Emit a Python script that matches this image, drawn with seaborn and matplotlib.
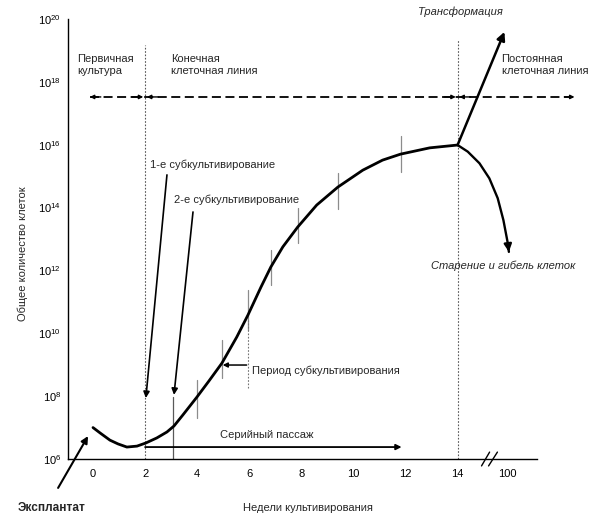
import numpy as np
import pandas as pd
import matplotlib
matplotlib.use("Agg")
import matplotlib.pyplot as plt
import seaborn as sns

# ---------------- data ----------------
# main growth curve: weeks vs log10(total cell number)
curve_weeks = [0, 0.27, 0.65, 0.96, 1.30, 1.69, 2.03, 2.45, 2.84, 3.11, 3.45,
               3.99, 4.45, 4.95, 5.52, 5.95, 6.45, 6.83, 7.29, 7.86, 8.59,
               9.40, 10.36, 11.12, 11.81, 12.93, 14.0]
curve_log_cells = [7.0, 6.83, 6.60, 6.48, 6.38, 6.41, 6.51, 6.67, 6.86, 7.05,
                   7.40, 7.97, 8.48, 9.05, 9.88, 10.58, 11.47, 12.11, 12.75,
                   13.38, 14.08, 14.65, 15.19, 15.51, 15.70, 15.90, 15.99]

# senescence branch
senes_weeks = [14.0, 14.39, 14.84, 15.22, 15.54, 15.76, 15.93, 15.97]
senes_log_cells = [15.99, 15.78, 15.41, 14.93, 14.30, 13.60, 12.86, 12.59]

# transformation branch (start, end)
transf_weeks = [14.0, 15.8]
transf_log_cells = [15.99, 19.59]

# subculture markers: week, lower and upper log10 value
sub_weeks = [3.07, 3.99, 4.95, 5.95, 6.83, 7.86, 9.40, 11.81]
sub_lo = [6.0, 7.30, 8.58, 10.10, 11.54, 12.87, 13.95, 15.13]
sub_hi = [7.97, 8.51, 9.79, 11.38, 12.65, 13.99, 15.10, 16.28]

# axis ticks
x_major_ticks = [0, 2, 4, 6, 8, 10, 12, 14, 15.9]
x_major_labels = ["0", "2", "4", "6", "8", "10", "12", "14", "100"]
x_minor_ticks = [1, 3, 5, 7, 9, 11, 13, 17]
y_exponents = list(range(6, 21))

df_curve = pd.DataFrame({"week": curve_weeks,
                         "cells": [10 ** v for v in curve_log_cells]})
df_senes = pd.DataFrame({"week": senes_weeks,
                         "cells": [10 ** v for v in senes_log_cells]})

# ---------------- style ----------------
sns.set_style("white")
plt.rcParams["font.family"] = ["Liberation Sans", "DejaVu Sans"]
plt.rcParams["mathtext.fontset"] = "custom"
plt.rcParams["mathtext.rm"] = "Liberation Sans"
plt.rcParams["mathtext.it"] = "Liberation Sans:italic"
plt.rcParams["mathtext.bf"] = "Liberation Sans:bold"

fig = plt.figure(figsize=(6, 5.18), dpi=100)
ax = fig.add_axes([68 / 600, 59 / 518, 469 / 600, 440 / 518])
ax.set_yscale("log")

FS = 8.0

# main curve
sns.lineplot(data=df_curve, x="week", y="cells", ax=ax, color="black",
             lw=2.0, sort=False, solid_capstyle="round",
             solid_joinstyle="round")
# senescence branch
sns.lineplot(data=df_senes, x="week", y="cells", ax=ax, color="black",
             lw=1.7, sort=False, clip_on=False, solid_joinstyle="round")
ax.annotate("", xy=(senes_weeks[-1], 10 ** senes_log_cells[-1]),
            xytext=(senes_weeks[-2], 10 ** senes_log_cells[-2]),
            arrowprops=dict(arrowstyle="-|>", lw=1.7, color="black",
                            mutation_scale=11, shrinkA=0, shrinkB=0),
            annotation_clip=False)
# transformation branch
ax.annotate("", xy=(transf_weeks[1], 10 ** transf_log_cells[1]),
            xytext=(transf_weeks[0], 10 ** transf_log_cells[0]),
            arrowprops=dict(arrowstyle="-|>", lw=1.8, color="black",
                            mutation_scale=12, shrinkA=0, shrinkB=0),
            annotation_clip=False)

# subculture markers
for i, (w, lo, hi) in enumerate(zip(sub_weeks, sub_lo, sub_hi)):
    col = "0.35" if i == 0 else "0.55"
    ax.plot([w, w], [10 ** lo, 10 ** hi], color=col, lw=0.9, zorder=1)

# dotted verticals
ax.plot([2, 2], [1e6, 10 ** 19.17], color="0.35", lw=0.8, ls=(0, (1.5, 1.5)),
        zorder=1, clip_on=False)
ax.plot([14, 14], [1e6, 10 ** 19.33], color="0.35", lw=0.8, ls=(0, (1.5, 1.5)),
        zorder=1, clip_on=False)
ax.plot([5.95, 5.95], [10 ** 8.26, 10 ** 10.42], color="0.45", lw=0.8,
        ls=(0, (1.5, 1.5)), zorder=1)

# horizontal dashed line with arrows
yd = 10 ** 17.52
ax.plot([-0.12, 18.49], [yd, yd], color="black", lw=1.3,
        ls=(0, (5, 2.5)), clip_on=False)
def head(x_to, x_from):
    ax.annotate("", xy=(x_to, yd), xytext=(x_from, yd),
                arrowprops=dict(arrowstyle="-|>", lw=1.0, color="black",
                                mutation_scale=6, shrinkA=0, shrinkB=0),
                annotation_clip=False)
head(-0.12, 0.3)
head(1.93, 1.5)
head(2.07, 2.5)
head(13.93, 13.5)
head(14.07, 14.5)
head(18.49, 18.1)

# serial passage arrow
ax.annotate("", xy=(11.85, 10 ** 6.38), xytext=(2.0, 10 ** 6.38),
            arrowprops=dict(arrowstyle="-|>", lw=1.3, color="black",
                            mutation_scale=8, shrinkA=0, shrinkB=0))
# subculture period arrow
ax.annotate("", xy=(4.98, 10 ** 8.99), xytext=(5.9, 10 ** 8.99),
            arrowprops=dict(arrowstyle="-|>", lw=1.1, color="black",
                            mutation_scale=7, shrinkA=0, shrinkB=0))
# 1st / 2nd subculture arrows
ax.annotate("", xy=(2.03, 10 ** 7.94), xytext=(2.84, 10 ** 15.04),
            arrowprops=dict(arrowstyle="-|>", lw=1.2, color="black",
                            mutation_scale=9, shrinkA=0, shrinkB=0))
ax.annotate("", xy=(3.11, 10 ** 8.04), xytext=(3.84, 10 ** 13.86),
            arrowprops=dict(arrowstyle="-|>", lw=1.2, color="black",
                            mutation_scale=9, shrinkA=0, shrinkB=0))
# explant arrow
ax.annotate("", xy=(-0.19, 10 ** 6.73), xytext=(-1.34, 10 ** 5.08),
            arrowprops=dict(arrowstyle="-|>", lw=1.5, color="black",
                            mutation_scale=10, shrinkA=0, shrinkB=0),
            annotation_clip=False)

# axis break marks
for x0, x1 in [(14.92, 15.23), (15.19, 15.53)]:
    ax.plot([x0, x1], [10 ** 5.78, 10 ** 6.22], color="black", lw=1.0,
            clip_on=False)

# texts
ax.text(-0.61, 10 ** 18.54, "Первичная\nкультура", fontsize=FS, va="center",
        ha="left", linespacing=1.3)
ax.text(2.99, 10 ** 18.54, "Конечная\nклеточная линия", fontsize=FS,
        va="center", ha="left", linespacing=1.3)
ax.text(15.69, 10 ** 18.54, "Постоянная\nклеточная линия", fontsize=FS,
        va="center", ha="left", linespacing=1.3, clip_on=False)
ax.text(12.47, 10 ** 20.22, "Трансформация", fontsize=FS, va="center",
        ha="left", style="italic", clip_on=False)
ax.text(2.19, 10 ** 15.35, "1-е субкультивирование", fontsize=FS,
        va="center", ha="left")
ax.text(3.11, 10 ** 14.24, "2-е субкультивирование", fontsize=FS,
        va="center", ha="left")
ax.text(12.97, 10 ** 12.14, "Старение и гибель клеток", fontsize=FS,
        va="center", ha="left", style="italic")
ax.text(6.10, 10 ** 8.80, "Период субкультивирования", fontsize=FS,
        va="center", ha="left")
ax.text(4.87, 10 ** 6.76, "Серийный пассаж", fontsize=FS, va="center",
        ha="left")
fig.text(18 / 600, 1 - 508 / 518, "Эксплантат", fontsize=FS + 0.5,
         fontweight="bold", va="center", ha="left")

ax.set_xlabel("Недели культивирования", fontsize=FS)
ax.xaxis.set_label_coords(0.512, -0.10)
ax.set_ylabel("Общее количество клеток", fontsize=FS)
ax.yaxis.set_label_coords(-0.085, 0.466)

# axes
ax.set_xlim(-0.96, 17.05)
ax.set_ylim(1e6, 1e20)
for s in ["top", "right"]:
    ax.spines[s].set_visible(False)
for s in ["left", "bottom"]:
    ax.spines[s].set_color("black")
    ax.spines[s].set_linewidth(1.0)

ax.set_xticks(x_major_ticks)
ax.set_xticklabels(x_major_labels, fontsize=FS)
ax.set_xticks(x_minor_ticks, minor=True)
ax.tick_params(axis="x", which="major", direction="in", length=5, width=1,
               pad=7, colors="black")
ax.tick_params(axis="x", which="minor", direction="in", length=3, width=1)

ax.set_yticks([10.0 ** e for e in y_exponents])
ax.set_yticklabels([f"$10^{{{e}}}$" if e % 2 == 0 else "" for e in y_exponents],
                   fontsize=FS)
ax.yaxis.set_minor_locator(matplotlib.ticker.NullLocator())
ax.tick_params(axis="y", which="major", direction="in", length=5, width=1,
               pad=5, colors="black")

fig.savefig("out.png", dpi=100)
